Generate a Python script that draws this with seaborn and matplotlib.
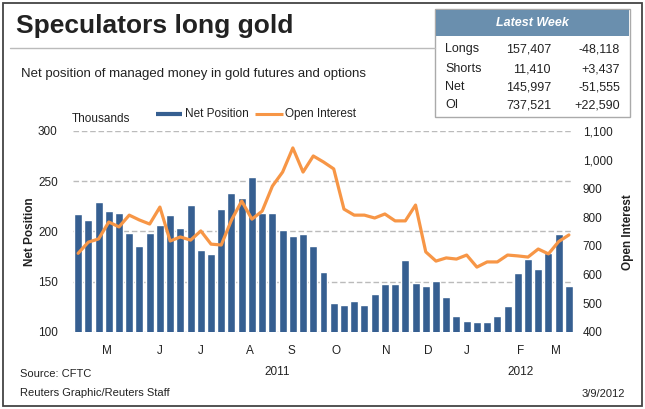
import matplotlib
matplotlib.use("Agg")
import matplotlib.pyplot as plt
from matplotlib.patches import Rectangle
from matplotlib.lines import Line2D
from matplotlib.ticker import FuncFormatter
import numpy as np
import pandas as pd
import seaborn as sns

# weekly values, thousands of contracts
net_position = [217.4, 211.4, 229.4, 220.4, 218.4, 198.5, 185.6, 198.5, 206.5, 216.4,
                203.5, 226.4, 181.6, 177.6, 222.4, 238.3, 233.3, 254.2, 218.4, 218.4,
                201.5, 195.5, 197.5, 185.6, 159.7, 128.9, 126.9, 130.8, 126.9, 137.8,
                147.8, 147.8, 171.6, 148.8, 145.8, 150.7, 134.8, 115.9, 110.9, 109.9,
                109.9, 115.9, 125.9, 158.7, 172.6, 162.7, 178.6, 197.6, 146.0]
open_interest = [674, 713, 724, 783, 766, 807, 790, 776, 835, 717,
                 731, 720, 752, 706, 703, 790, 856, 793, 821, 908,
                 957, 1041, 957, 1013, 992, 968, 828, 807, 807, 797,
                 811, 787, 787, 842, 679, 647, 658, 654, 668, 626,
                 644, 644, 668, 665, 661, 689, 672, 715, 738]

month_labels = ["M", "J", "J", "A", "S", "O", "N", "D", "J", "F", "M"]
month_pos = [2.8, 8.0, 12.0, 16.8, 20.9, 25.2, 30.1, 34.2, 38.0, 43.3, 46.7]
year_labels = ["2011", "2012"]
year_pos = [19.5, 43.3]

table_rows = ["Longs", "Shorts", "Net", "OI"]
table_values = ["157,407", "11,410", "145,997", "737,521"]
table_changes = ["-48,118", "+3,437", "-51,555", "+22,590"]

BAR_BLUE = "#365f91"
LINE_ORANGE = "#f79646"
HEADER_BLUE = "#6a8fae"
TXT = "#222222"

sns.set_style("white")
plt.rcParams["font.family"] = ["Liberation Sans", "DejaVu Sans"]
plt.rcParams["font.size"] = 8.5

df = pd.DataFrame({"week": np.arange(len(net_position)),
                   "net": net_position, "oi": open_interest})

W, H = 645, 409


def fx(px):
    return px / W


def fy(py):
    return 1 - py / H


fig = plt.figure(figsize=(6.45, 4.09), dpi=100)

ax = fig.add_axes([fx(73), fy(332), fx(573) - fx(73), fy(131) - fy(332)])
sns.barplot(data=df, x="week", y="net", color=BAR_BLUE, saturation=1,
            width=0.78, ax=ax, zorder=2)
ax.set_ylim(100, 300)
ax.set_yticks([100, 150, 200, 250, 300])
ax.yaxis.grid(True, linestyle=(0, (4, 2)), color="#bbbbbb", lw=1)
ax.xaxis.grid(False)
ax.set_axisbelow(True)
ax.set_xlabel("")
ax.set_ylabel("")

ax2 = ax.twinx()
sns.lineplot(data=df, x="week", y="oi", color=LINE_ORANGE, lw=2.3, ax=ax2)
ax2.set_ylim(400, 1100)
ax2.set_yticks(range(400, 1101, 100))
ax2.yaxis.set_major_formatter(FuncFormatter(lambda v, p: f"{int(v):,}"))
ax2.set_ylabel("")
ax2.set_xlabel("")

ax.set_xlim(-0.5, 48.4)
ax.set_xticks(month_pos, month_labels)

for a in (ax, ax2):
    for s in a.spines.values():
        s.set_visible(False)
ax.tick_params(axis="x", length=0, pad=9, labelsize=8.5, labelcolor=TXT)
ax.tick_params(axis="y", length=0, pad=11, labelsize=8.5, labelcolor=TXT)
ax2.tick_params(axis="y", length=0, pad=7, labelsize=8.5, labelcolor=TXT)

for lab, p in zip(year_labels, year_pos):
    ax.text(p, -0.2, lab, transform=ax.get_xaxis_transform(), ha="center",
            va="center", fontsize=8.5, color=TXT)

# axis titles
fig.text(fx(30), fy(232), "Net Position", rotation=90, ha="center", va="center",
         fontsize=8.5, fontweight="bold", color=TXT)
fig.text(fx(628), fy(232), "Open Interest", rotation=90, ha="center", va="center",
         fontsize=8.5, fontweight="bold", color=TXT)

# title block
fig.text(fx(16), fy(26), "Speculators long gold", fontsize=19, fontweight="bold",
         ha="left", va="center", color=TXT)
fig.add_artist(Line2D([fx(10), fx(435)], [fy(48), fy(48)], color="#bbbbbb", lw=1,
                      transform=fig.transFigure))
fig.text(fx(21), fy(74), "Net position of managed money in gold futures and options",
         fontsize=9.5, ha="left", va="center", color=TXT)

# legend row
fig.text(fx(72), fy(119), "Thousands", fontsize=8.5, ha="left", va="center", color=TXT)
fig.add_artist(Line2D([fx(156), fx(182)], [fy(114), fy(114)], color=BAR_BLUE, lw=3,
                      solid_capstyle="butt", transform=fig.transFigure))
fig.text(fx(185), fy(114), "Net Position", fontsize=8.5, ha="left", va="center", color=TXT)
fig.add_artist(Line2D([fx(255), fx(283)], [fy(114), fy(114)], color=LINE_ORANGE, lw=2.2,
                      solid_capstyle="butt", transform=fig.transFigure))
fig.text(fx(285), fy(114), "Open Interest", fontsize=8.5, ha="left", va="center", color=TXT)

# latest week box
fig.add_artist(Rectangle((fx(435), fy(117)), fx(630) - fx(435), fy(9) - fy(117),
                         transform=fig.transFigure, fill=False, ec="#aaaaaa", lw=1))
fig.add_artist(Rectangle((fx(436), fy(36)), fx(629) - fx(436), fy(10) - fy(36),
                         transform=fig.transFigure, fc=HEADER_BLUE, ec="none"))
fig.text(fx(532), fy(23), "Latest Week", fontsize=9, fontweight="bold", style="italic",
         color="white", ha="center", va="center")
for i, (r, v, c) in enumerate(zip(table_rows, table_values, table_changes)):
    yy = fy([49, 69, 87, 105][i])
    fig.text(fx(445), yy, r, fontsize=9, ha="left", va="center", color=TXT)
    fig.text(fx(551), yy, v, fontsize=9, ha="right", va="center", color=TXT)
    fig.text(fx(620), yy, c, fontsize=9, ha="right", va="center", color=TXT)

# footer
fig.text(fx(20), fy(374), "Source: CFTC", fontsize=8, ha="left", va="center", color=TXT)
fig.text(fx(20), fy(393), "Reuters Graphic/Reuters Staff", fontsize=8, ha="left",
         va="center", color=TXT)
fig.text(fx(625), fy(394), "3/9/2012", fontsize=8, ha="right", va="center", color=TXT)

# outer frame
fig.add_artist(Rectangle((fx(2.5), fy(405.5)), fx(641.5) - fx(2.5), fy(2.5) - fy(405.5),
                         transform=fig.transFigure, fill=False, ec="#444444", lw=1.3))

fig.savefig("out.png", dpi=100)
